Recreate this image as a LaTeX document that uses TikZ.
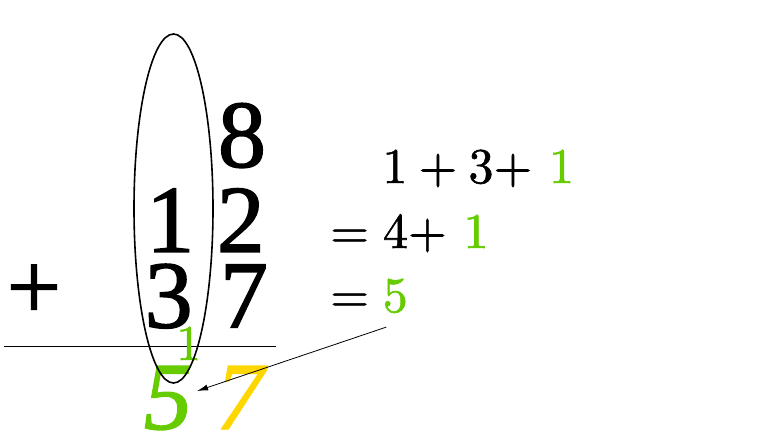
\documentclass[tikz,border=0pt]{standalone}
\usepackage{fontspec}
\usetikzlibrary{arrows.meta, calc}

\newfontfamily\timesfont[FakeBold=1.5]{Liberation Serif}
\newfontfamily\cmfont[FakeBold=1.2]{lmroman10-regular.otf}
\definecolor{carrygreen}{HTML}{66CC00}
\definecolor{sumyellow}{HTML}{FFD700}

\newcommand{\bigdigits}{\timesfont\fontsize{96}{96}\selectfont}
\newcommand{\smalltext}{\cmfont\fontsize{50}{50}\selectfont}
\newcommand{\binsp}{\hspace{0.2222em}}
\newcommand{\relsp}{\hspace{0.2778em}}

\begin{document}
\begin{tikzpicture}[x=1pt, y=1pt, every node/.style={inner sep=0pt, outer sep=0pt}]
	\tikzstyle{digit}=[
		anchor=base,
		font=\bigdigits
	]
	\tikzstyle{sumdigit}=[
		anchor=base,
		font=\bigdigits\itshape
	]
	\tikzstyle{eqline}=[
		anchor=base west,
		font=\smalltext
	]
	\tikzstyle{column}=[
		line width=1.6pt
	]
	\useasboundingbox (0,0) rectangle (778,447);
	
	% the two numbers
	\node (a1) at (242,280) [digit] {8};
	\node (b10) at (170.3,195) [digit] {1};
	\node (b1) at (240.8,195) [digit] {2};
	\node (c10) at (168.7,119.5) [digit] {3};
	\node (c1) at (244,119.5) [digit] {7};
	\node (plus) at (34,128) [digit] {+};
	
	\coordinate (ruleL) at (4,101);
	\coordinate (ruleR) at (276,101);
	\draw [line width=1pt] (ruleL) -- (ruleR);
	
	% result and carry
	\node (carry) at (188.6,87) [anchor=base, font=\smalltext, text=carrygreen] {1};
	\node (s10) at (168,18) [sumdigit, text=carrygreen] {5};
	\node (s1) at (240,18) [sumdigit, text=sumyellow] {7};
	
	\coordinate (tens) at (173.5,238.5);
	\draw [column] (tens) ellipse (39.5 and 174.5);
	
	% column sum
	\node (l1) at (382.4,264) [eqline] {1\binsp+\binsp3+ \textcolor{carrygreen}{1}};
	\node (l2) at (330.2,199) [eqline] {=\relsp4+ \textcolor{carrygreen}{1}};
	\node (l3) at (330.2,135) [eqline] {=};
	\node (r5) at (382.8,135) [eqline, text=carrygreen] {5};
	
	\draw [line width=0.8pt, -{Latex[length=11pt, width=6pt]}] ($(r5.south)+(-9,-14)$) -- ($(s10.east)+(5,7)$);
\end{tikzpicture}
\end{document}
